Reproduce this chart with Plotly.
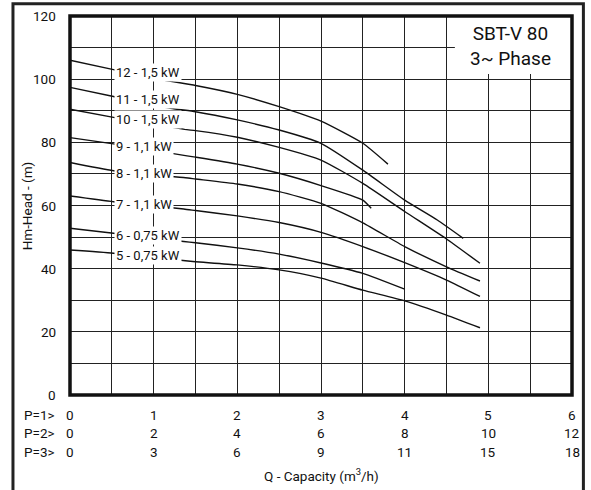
import plotly.graph_objects as go

# ---- data ----
curve_names = ["12 - 1,5 kW", "11 - 1,5 kW", "10 - 1,5 kW", "9 - 1,1 kW",
               "8 - 1,1 kW", "7 - 1,1 kW", "6 - 0,75 kW", "5 - 0,75 kW"]

q12 = [0, 0.52, 1.12, 1.5, 2.0, 2.5, 3.0, 3.5, 3.8]
h12 = [106, 103, 99.7, 98.0, 95.2, 91.3, 86.7, 79.7, 73.1]
q11 = [0, 0.52, 1.2, 1.5, 2.0, 2.5, 3.0, 3.5, 4.0, 4.39, 4.7]
h11 = [97.4, 94.5, 90.8, 89.7, 87.1, 83.9, 79.7, 71.2, 61.7, 55.4, 49.6]
q10 = [0, 0.52, 1.37, 1.5, 2.0, 2.5, 3.0, 3.5, 4.0, 4.5, 4.9]
h10 = [90.5, 87.9, 84.1, 83.7, 81.6, 78.4, 74.4, 67.0, 58.1, 49.4, 41.7]
q9 = [0, 0.52, 1.38, 1.5, 2.0, 2.5, 3.0, 3.5, 3.6]
h9 = [81.5, 79.5, 75.8, 75.3, 73.1, 70.2, 66.3, 61.7, 59.1]
q8 = [0, 0.52, 1.38, 1.5, 2.0, 2.5, 3.0, 3.5, 4.0, 4.5, 4.9]
h8 = [73.6, 71.0, 68.8, 68.4, 66.8, 64.4, 60.7, 54.5, 47.0, 40.6, 36.1]
q7 = [0, 0.52, 1.36, 1.5, 2.0, 2.5, 3.0, 3.5, 4.0, 4.5, 4.9]
h7 = [63.0, 61.2, 58.9, 58.4, 56.7, 54.6, 51.5, 47.0, 41.9, 36.4, 31.2]
q6 = [0, 0.52, 1.36, 1.5, 2.0, 2.5, 3.0, 3.5, 4.0]
h6 = [52.8, 51.2, 48.6, 48.2, 46.6, 44.6, 41.8, 38.5, 33.5]
q5 = [0, 0.52, 1.38, 1.5, 2.0, 2.5, 3.0, 3.5, 4.0, 4.5, 4.9]
h5 = [45.9, 44.9, 42.5, 42.2, 41.2, 39.6, 37.0, 33.2, 29.8, 25.3, 21.3]

curves_q = [q12, q11, q10, q9, q8, q7, q6, q5]
curves_h = [h12, h11, h10, h9, h8, h7, h6, h5]

y_ticks = [0, 20, 40, 60, 80, 100, 120]
row_names = ["P=1>", "P=2>", "P=3>"]
row_p1 = ["0", "1", "2", "3", "4", "5", "6"]
row_p2 = ["0", "2", "4", "6", "8", "10", "12"]
row_p3 = ["0", "3", "6", "9", "11", "15", "18"]
x_positions = [0, 1, 2, 3, 4, 5, 6]

FONT = "Roboto"

fig = go.Figure()
for q, h in zip(curves_q, curves_h):
    fig.add_trace(go.Scatter(x=q, y=h, mode="lines",
                             line=dict(color="#111", width=1.4, shape="spline", smoothing=0.5),
                             showlegend=False, hoverinfo="skip"))

annotations = []
# curve labels
for name, q, h in zip(curve_names, curves_q, curves_h):
    annotations.append(dict(x=q[1], y=h[1] - 0.8, xref="x", yref="y", text=name,
                            xanchor="left", yanchor="middle", showarrow=False,
                            bgcolor="white", borderpad=1,
                            font=dict(family=FONT, size=13, color="#111")))

# bottom rows
row_y = [-0.053, -0.100, -0.150]
for rn, vals, ry in zip(row_names, [row_p1, row_p2, row_p3], row_y):
    annotations.append(dict(x=-0.095, y=ry, xref="paper", yref="paper", text=rn,
                            xanchor="left", yanchor="middle", showarrow=False,
                            font=dict(family=FONT, size=13.5, color="#111")))
    for xv, t in zip(x_positions, vals):
        annotations.append(dict(x=xv, y=ry, xref="x", yref="paper", text=t,
                                xanchor="center", yanchor="middle", showarrow=False,
                                font=dict(family=FONT, size=13.5, color="#111")))

annotations.append(dict(x=0.5, y=-0.211, xref="paper", yref="paper",
                        text="Q - Capacity (m<sup>3</sup>/h)", showarrow=False,
                        xanchor="center", yanchor="middle",
                        font=dict(family=FONT, size=13.5, color="#111")))
annotations.append(dict(x=-0.086, y=0.5, xref="paper", yref="paper",
                        text="Hm-Head - (m)", textangle=-90, showarrow=False,
                        xanchor="center", yanchor="middle",
                        font=dict(family=FONT, size=13.5, color="#111")))
annotations.append(dict(x=5.26, y=110.4, xref="x", yref="y",
                        text="SBT-V 80<br>3~ Phase", showarrow=False,
                        xanchor="center", yanchor="middle",
                        font=dict(family=FONT, size=19, color="#111")))

shapes = [
    # white title box
    dict(type="rect", xref="x", yref="y", x0=4.6, x1=6, y0=101.6, y1=120,
         fillcolor="white", line=dict(width=0), layer="above"),
    # plot border
    dict(type="rect", xref="paper", yref="paper", x0=0, x1=1, y0=0, y1=1,
         line=dict(color="#111", width=3.5), fillcolor="rgba(0,0,0,0)", layer="above"),
    # outer frame
    dict(type="rect", xref="paper", yref="paper", x0=-0.1136, x1=1.0227, y0=-0.6, y1=1.032,
         line=dict(color="#222", width=3), fillcolor="rgba(0,0,0,0)", layer="above"),
]

fig.update_layout(
    width=591, height=490,
    margin=dict(l=70, r=19, t=16, b=95),
    plot_bgcolor="white", paper_bgcolor="white",
    showlegend=False,
    annotations=annotations,
    shapes=shapes,
    xaxis=dict(range=[0, 6], tickmode="linear", tick0=0, dtick=0.5,
               showticklabels=False, showgrid=True, gridcolor="#222", gridwidth=1.3,
               zeroline=False, showline=False, ticks=""),
    yaxis=dict(range=[0, 120], tickmode="linear", tick0=0, dtick=10,
               showticklabels=False, showgrid=True, gridcolor="#222", gridwidth=1.3,
               zeroline=False, showline=False, ticks=""),
)
# y tick labels as annotations
for yv in y_ticks:
    fig.add_annotation(x=-0.024, y=yv, xref="paper", yref="y", text=str(yv),
                       xanchor="right", yanchor="middle", showarrow=False,
                       font=dict(family=FONT, size=13.5, color="#111"))

fig.write_html("out.html", config={"displayModeBar": False},
               post_script="document.body.style.margin='0';document.body.style.overflow='hidden';")
